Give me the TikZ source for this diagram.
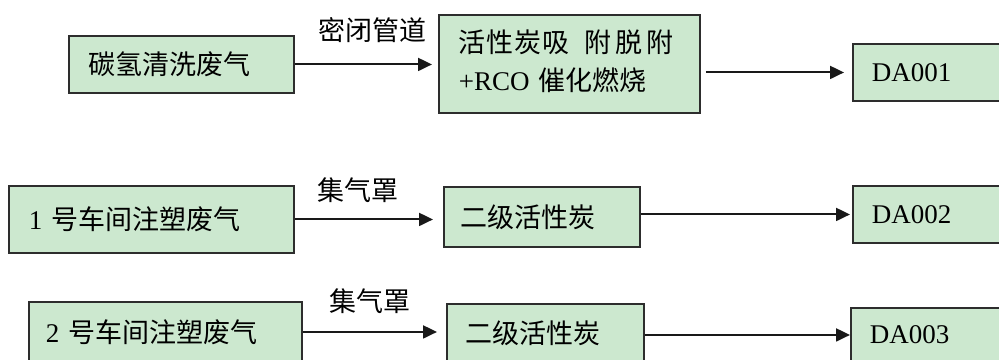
\documentclass[tikz,border=0pt]{standalone}
\usepackage{fontspec}
\setmainfont{Liberation Serif}
\newfontfamily\cjk{Noto Sans CJK SC}
\usetikzlibrary{arrows.meta}
\definecolor{boxgreen}{RGB}{204,232,207}
\definecolor{bordergray}{RGB}{45,45,45}
\tikzset{
  box/.style={draw=bordergray, fill=boxgreen, line width=1.9pt, align=left,
    inner ysep=0pt, anchor=north west, font=\fontsize{27pt}{38pt}\selectfont},
  lbl/.style={inner sep=0pt, font=\cjk\fontsize{27pt}{38pt}\selectfont},
  arr/.style={draw=black!90, line width=2pt, -{Triangle[length=14pt,width=13pt]}}
}
\begin{document}
\begin{tikzpicture}[x=1pt,y=-1pt]
\useasboundingbox (0,0) rectangle (999,359);
\clip (0,0) rectangle (999,359);
\fill[white] (0,0) rectangle (999,359);
% row 1
\node[box, text width=185pt, inner xsep=20pt, minimum height=57pt] (b1) at (68,35) {\cjk 碳氢清洗废气};
\node[box, text width=221pt, inner xsep=20pt, minimum height=98pt, text depth=46pt] (b2) at (438,14) {{\cjk 活\hspace{1pt}性\hspace{1pt}炭\hspace{1pt}吸\hspace{15pt}附\hspace{4pt}脱\hspace{4pt}附}\\+RCO {\cjk 催化燃烧}};
\node[box, text width=122pt, inner xsep=19pt, minimum height=57pt] (b3) at (852,43) {DA001};
% row 2
\node[box, text width=245pt, inner xsep=20pt, minimum height=67pt] (b4) at (8,185) {1 {\cjk 号车间注塑废气}};
\node[box, text width=162pt, inner xsep=17pt, minimum height=60pt] (b5) at (443,186) {\cjk 二级活性炭};
\node[box, text width=122pt, inner xsep=19pt, minimum height=57pt] (b6) at (852,185) {DA002};
% row 3
\node[box, text width=239pt, inner xsep=17pt, minimum height=60pt] (b7) at (28,301) {2 {\cjk 号车间注塑废气}};
\node[box, text width=159pt, inner xsep=19pt, minimum height=59pt] (b8) at (446,303) {\cjk 二级活性炭};
\node[box, text width=124pt, inner xsep=19pt, minimum height=54pt] (b9) at (850,307) {DA003};
% labels
\node[lbl] (l1) at (372,30) {密闭管道};
\node[lbl] (l2) at (358,190) {集气罩};
\node[lbl] (l3) at (370,301) {集气罩};
% arrows
\draw[arr, shorten >=6pt] (b1.east) -- (b2.west |- b1.east);
\draw[arr, shorten <=5pt, shorten >=8pt] (b2.east |- b3.west) -- (b3.west);
\draw[arr, shorten >=10pt] (b4.east) -- (b5.west |- b4.east);
\draw[arr, shorten >=2pt] (b5.east |- b6.west) -- (b6.west);
\draw[arr, shorten >=9pt] (b7.east) -- (b8.west |- b7.east);
\draw[arr] (b8.east |- b9.west) -- (b9.west);
\end{tikzpicture}
\end{document}
